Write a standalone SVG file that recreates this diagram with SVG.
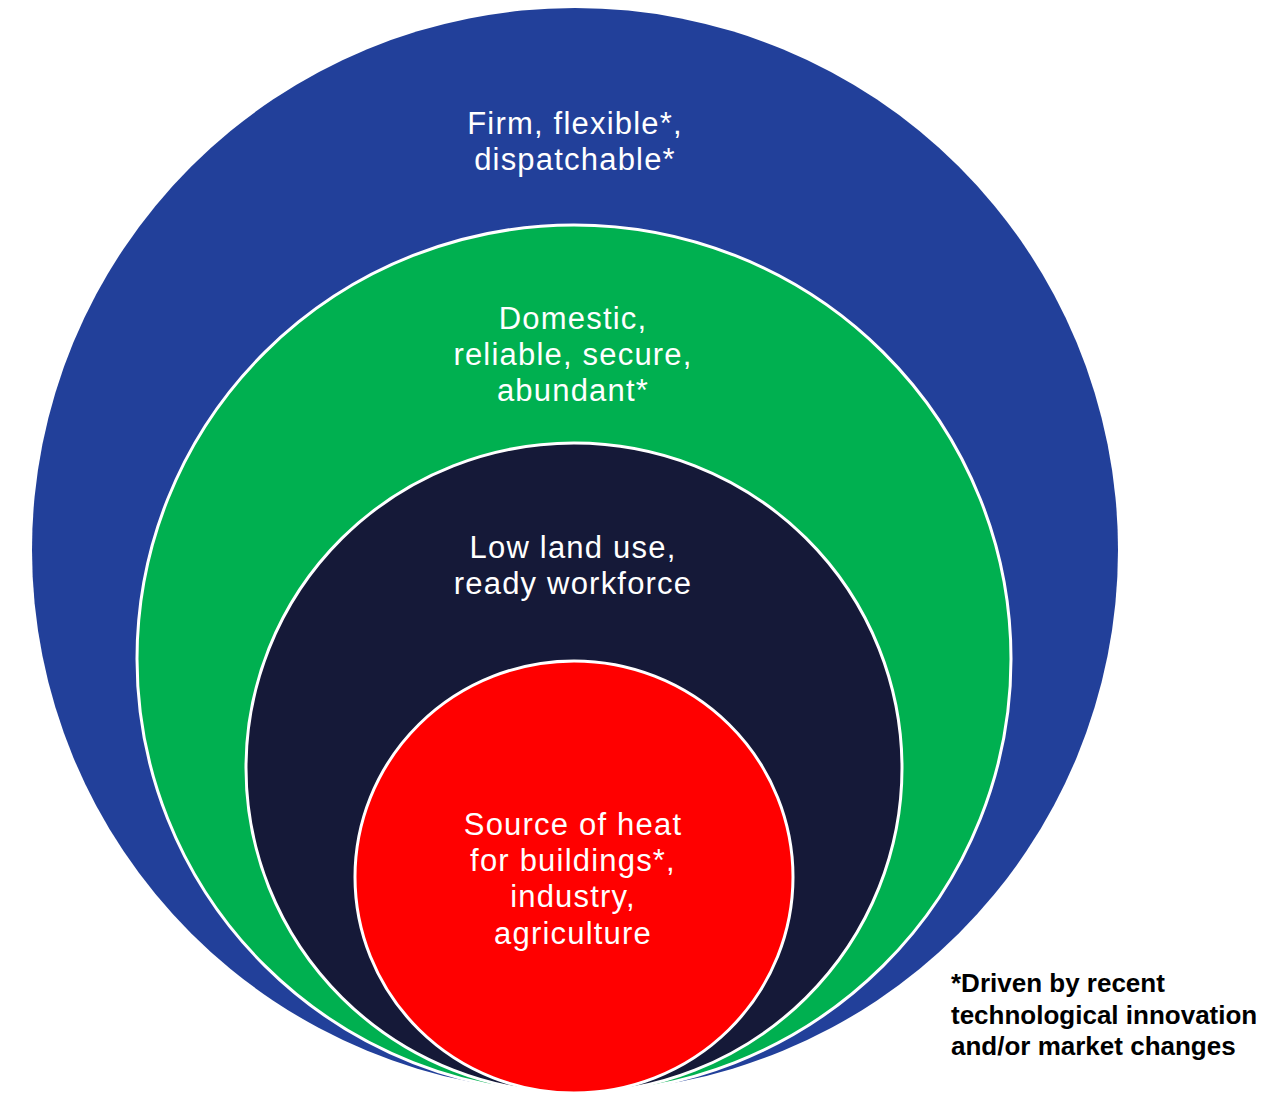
<svg xmlns="http://www.w3.org/2000/svg" width="1282" height="1095" viewBox="0 0 1282 1095">
<style>
.lbl{font-family:"Liberation Sans",Arial,sans-serif;font-size:31px;fill:#fff;text-anchor:middle;letter-spacing:1.2px}
.note{font-family:"Liberation Sans",Arial,sans-serif;font-size:26px;font-weight:bold;fill:#000}
.ring{stroke:#fff;stroke-width:3}
</style>
<rect width="1282" height="1095" fill="#fff"/>
<g id="outer">
<ellipse cx="575" cy="550" rx="543" ry="542" fill="#22409A"/>
<text class="lbl"><tspan x="575" y="134">Firm, flexible*,</tspan><tspan x="575" y="170">dispatchable*</tspan></text>
</g>
<g id="green">
<ellipse class="ring" cx="574" cy="659" rx="437" ry="434" fill="#00B050"/>
<text class="lbl"><tspan x="573" y="329">Domestic,</tspan><tspan x="573" y="365">reliable,  secure,</tspan><tspan x="573" y="401">abundant*</tspan></text>
</g>
<g id="navy">
<ellipse class="ring" cx="574" cy="768" rx="328" ry="325" fill="#151938"/>
<text class="lbl"><tspan x="573" y="558">Low land use,</tspan><tspan x="573" y="594">ready  workforce</tspan></text>
</g>
<g id="red">
<ellipse class="ring" cx="574" cy="877" rx="219" ry="216" fill="#FF0000"/>
<text class="lbl"><tspan x="573" y="835">Source of heat</tspan><tspan x="573" y="871">for buildings*,</tspan><tspan x="573" y="907">industry,</tspan><tspan x="573" y="944">agriculture</tspan></text>
</g>
<g id="connectors"/>
<g id="footnote">
<text class="note"><tspan x="951" y="992">*Driven by recent</tspan><tspan x="951" y="1024">technological innovation</tspan><tspan x="951" y="1055">and/or market changes</tspan></text>
</g>
</svg>
